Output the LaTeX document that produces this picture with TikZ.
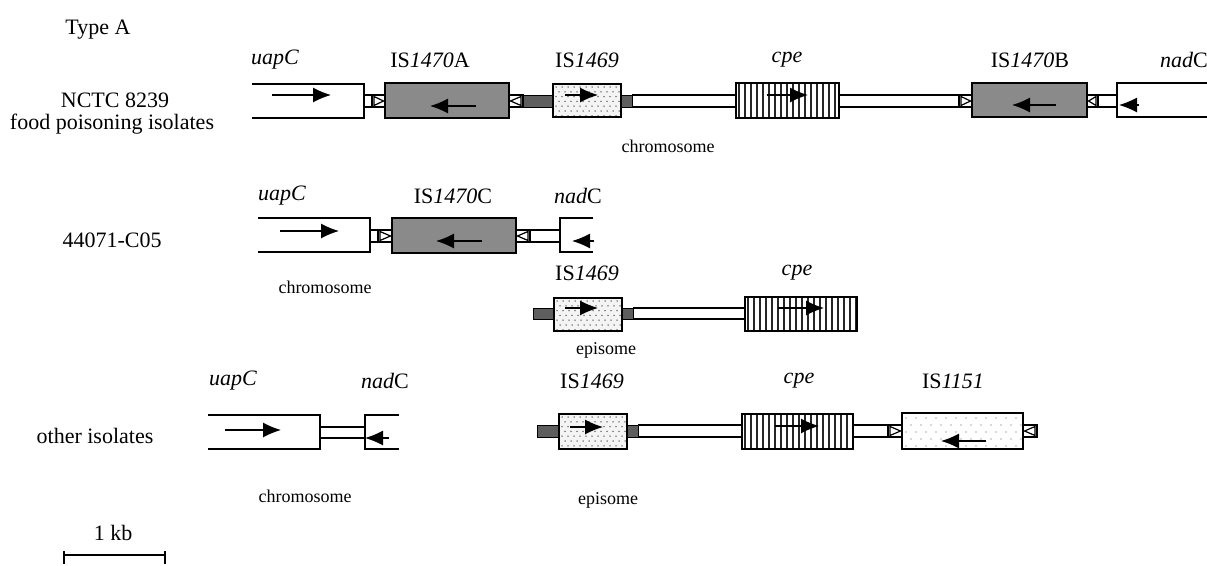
\documentclass[tikz,border=0pt]{standalone}
\usepackage{fontspec}
\setmainfont{Liberation Serif}
\usetikzlibrary{arrows.meta}
\definecolor{isgray}{HTML}{8A8A8A}
\definecolor{darkg}{HTML}{5E5E5E}
\definecolor{dotbg}{HTML}{F4F4F4}
\tikzset{
  ln/.style={line width=1.3pt},
  arr/.style={line width=1.2pt,-{Latex[length=18pt,width=15pt]}},
  lab/.style={font=\fontsize{22}{26}\selectfont,inner sep=0pt},
  side/.style={font=\fontsize{22}{26}\selectfont,inner sep=0pt},
  small/.style={font=\fontsize{18}{22}\selectfont,inner sep=0pt}
}
% double connector line
\newcommand\dline[4]{\draw[ln] (#1,#3) -- (#2,#3) (#1,#4) -- (#2,#4);}
% grey flanking block
\newcommand\gblock[4]{\filldraw[fill=darkg,draw=black,line width=1pt] (#1,#3) rectangle (#2,#4);}
% inverted-repeat marker pointing right / left
\newcommand\mkR[4]{\draw[ln,fill=white] (#1,#3) rectangle (#2,#4);
  \draw[line width=1.2pt] ({#1+2},{#3+1.5}) -- ({#2-1.5},{(#3+#4)/2}) -- ({#1+2},{#4-1.5}) -- cycle;}
\newcommand\mkL[4]{\draw[ln,fill=white] (#1,#3) rectangle (#2,#4);
  \draw[line width=1.2pt] ({#2-2},{#3+1.5}) -- ({#1+1.5},{(#3+#4)/2}) -- ({#2-2},{#4-1.5}) -- cycle;}
% IS1470 grey box
\newcommand\isbox[4]{\filldraw[fill=isgray,draw=black,ln] (#1,#3) rectangle (#2,#4);}
% striped cpe box
\newcommand\cpebox[4]{\fill[white] (#1,#3) rectangle (#2,#4);
  \begin{scope}\clip (#1,#3) rectangle (#2,#4);
  \foreach \k in {0,...,19}{\fill[black!85] ({#1+2+\k*6.0},#3) rectangle ++(2.0,{#4-#3});}
  \end{scope}
  \draw[ln] (#1,#3) rectangle (#2,#4);}
% dotted box
\newcommand\dotbox[5]{\fill[dotbg] (#1,#3) rectangle (#2,#4);
  \begin{scope}\clip (#1,#3) rectangle (#2,#4);
  \foreach \a in {0,...,30}{\foreach \b in {0,...,10}{
    \fill[black!70] ({#1+3+\a*#5+mod(\b,2)*#5/2},{#3+3+\b*#5*0.8}) circle (0.75pt);}}
  \end{scope}
  \draw[ln] (#1,#3) rectangle (#2,#4);}
\begin{document}
\begin{tikzpicture}[x=1pt,y=-1pt]
\useasboundingbox (0,0) rectangle (1207,565);
\fill[white] (0,0) rectangle (1207,565);

% ---------- side labels ----------
\node[side] (typeA) at (98,30) {Type A};
\node[side] (nctc) at (115,100) {NCTC 8239};
\node[side] (food) at (112,124) {food poisoning isolates};
\node[side] (c05) at (112,240) {44071-C05};
\node[side] (other) at (95,436) {other isolates};

% ---------- Row 1 ----------
\node[lab] (u1) at (275,60) {\textit{uapC}};
\node[lab] (a1) at (430,60) {IS\textit{1470}A};
\node[lab] (i1) at (587,60) {IS\textit{1469}};
\node[lab] (c1) at (787,60) {\textit{cpe}};
\node[lab] (b1) at (1030,60) {IS\textit{1470}B};
\node[lab] (n1) at (1184,60) {\textit{nad}C};
\node[small] (chr1) at (668,146) {chromosome};

\draw[ln] (252,84) -- (364,84) -- (364,118) -- (252,118);
\dline{364}{372}{95}{107}
\mkR{372}{385}{95}{107}
\isbox{385}{509}{83}{118}
\mkL{509}{523}{95}{107}
\gblock{523}{553}{95}{107}
\dotbox{553}{621}{84}{117}{6}
\gblock{621}{632}{95}{107}
\dline{632}{736}{95}{107}
\cpebox{736}{839}{83}{118}
\dline{839}{959}{95}{107}
\mkR{959}{972}{95}{107}
\isbox{972}{1087}{83}{117}
\mkL{1087}{1098}{95}{107}
\dline{1098}{1117}{95}{107}
\draw[ln] (1207,83) -- (1117,83) -- (1117,117) -- (1207,117);
\draw[arr] (272,95) -- (331,95);
\draw[arr] (476,106) -- (430,106);
\draw[arr] (565,95) -- (598,95);
\draw[arr] (767,95) -- (808,95);
\draw[arr] (1056,105) -- (1012,105);
\draw[arr] (1139,105) -- (1119,105);

% ---------- Row 2 chromosome ----------
\node[lab] (u2) at (282,196) {\textit{uapC}};
\node[lab] (c2lab) at (453,196) {IS\textit{1470}C};
\node[lab] (n2) at (578,196) {\textit{nad}C};
\node[small] (chr2) at (325,287) {chromosome};

\draw[ln] (258,218) -- (370,218) -- (370,252) -- (258,252);
\dline{370}{378}{230}{242}
\mkR{378}{392}{230}{242}
\isbox{392}{516}{218}{253}
\mkL{516}{530}{230}{242}
\dline{530}{560}{230}{242}
\draw[ln] (593,218) -- (560,218) -- (560,252) -- (593,252);
\draw[arr] (280,231) -- (339,231);
\draw[arr] (482,241) -- (436,241);
\draw[arr] (594,241) -- (572,241);

% ---------- Row 2 episome ----------
\node[lab] (i2) at (587,273) {IS\textit{1469}};
\node[lab] (cpe2) at (797,273) {\textit{cpe}};
\node[small] (epi2) at (606,350) {episome};

\gblock{533}{554}{308}{319}
\dotbox{554}{622}{298}{331}{6}
\gblock{622}{633}{308}{319}
\dline{633}{745}{308}{319}
\cpebox{745}{857}{297}{331}
\draw[arr] (565,308) -- (598,308);
\draw[arr] (778,308) -- (824,308);

% ---------- Row 3 chromosome ----------
\node[lab] (u3) at (233,381) {\textit{uapC}};
\node[lab] (n3) at (385,381) {\textit{nad}C};
\node[small] (chr3) at (305,496) {chromosome};

\draw[ln] (208,415) -- (320,415) -- (320,449) -- (208,449);
\dline{320}{365}{427}{438}
\draw[ln] (399,415) -- (365,415) -- (365,449) -- (399,449);
\draw[arr] (225,430) -- (281,430);
\draw[arr] (389,438) -- (365,438);

% ---------- Row 3 episome ----------
\node[lab] (i3) at (592,381) {IS\textit{1469}};
\node[lab] (cpe3) at (799,381) {\textit{cpe}};
\node[lab] (is1151) at (953,381) {IS\textit{1151}};
\node[small] (epi3) at (608,500) {episome};

\gblock{537}{559}{425}{437}
\dotbox{559}{627}{414}{449}{6}
\gblock{627}{638}{425}{437}
\dline{638}{742}{425}{437}
\cpebox{742}{853}{414}{449}
\dline{853}{888}{425}{437}
\mkR{888}{902}{425}{437}
\fill[white] (902,413) rectangle (1023,449);
\begin{scope}\clip (902,413) rectangle (1023,449);
\foreach \a in {0,...,12}{\foreach \b in {0,...,4}{
  \fill[black!65] ({906+\a*10+mod(\b,2)*5},{418+\b*7}) circle (0.7pt);}}
\end{scope}
\draw[ln] (902,413) rectangle (1023,449);
\mkL{1023}{1037}{425}{437}
\draw[arr] (570,427) -- (603,427);
\draw[arr] (775,426) -- (819,426);
\draw[arr] (986,441) -- (941,441);

% ---------- scale bar ----------
\node[side] (kb) at (113,533) {1 kb};
\coordinate (s1) at (64,555);
\coordinate (s2) at (165,555);
\draw[line width=1.1pt] (s1) -- (s2);
\draw[line width=1.1pt] ([yshift=-9pt]s1) -- ([yshift=4pt]s1);
\draw[line width=1.1pt] ([yshift=-9pt]s2) -- ([yshift=4pt]s2);
\end{tikzpicture}
\end{document}
